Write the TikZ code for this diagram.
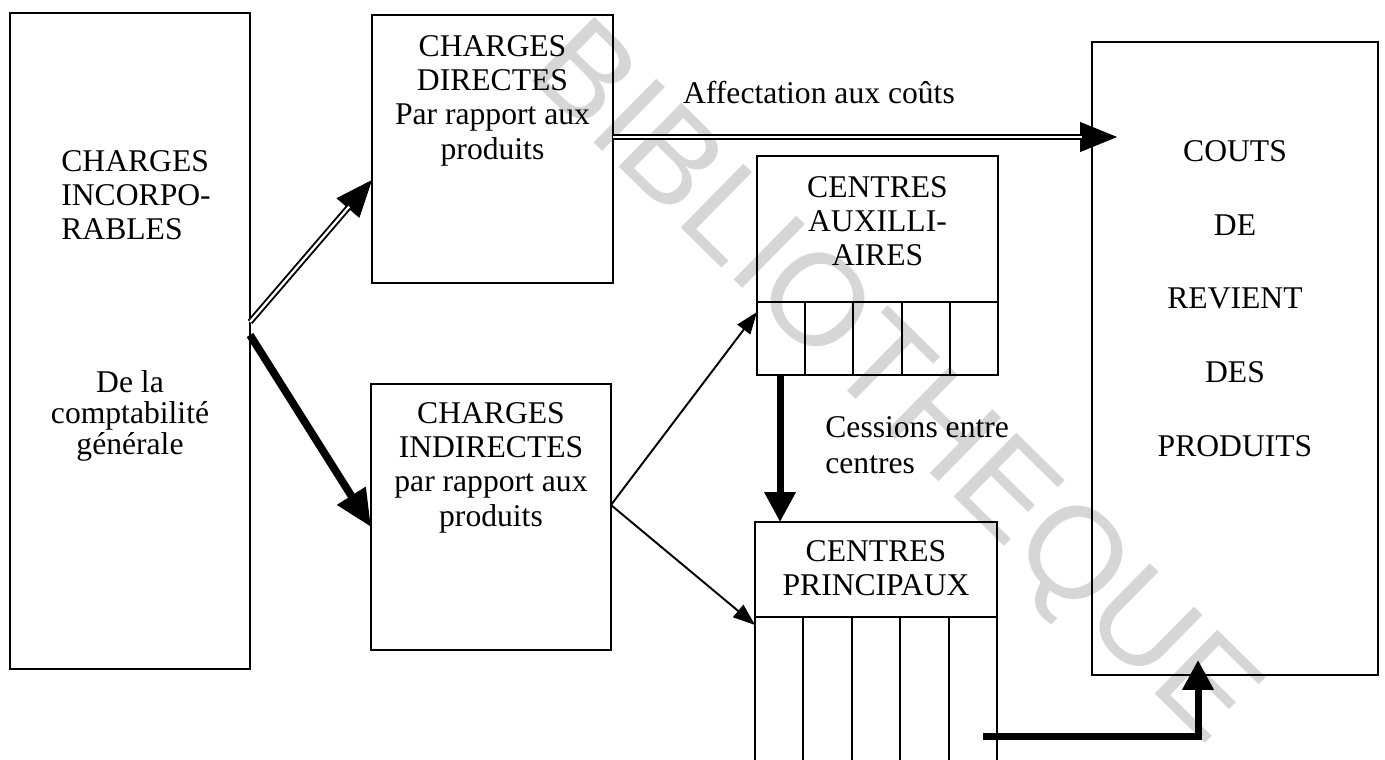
\documentclass[tikz,border=0pt]{standalone}
\usepackage{fontspec}
\setmainfont{Liberation Serif}
\newfontfamily\wmfont{Liberation Sans}
\usetikzlibrary{arrows.meta,positioning,calc}

\begin{document}
\begin{tikzpicture}[
        x=0.02cm, y=-0.02cm,
        box/.style={rectangle, draw, line width=1.1pt, outer sep=0pt, inner sep=0pt},
        txt/.style={align=center, inner sep=0pt, font=\fontsize{18}{19.5}\selectfont},
        wmark/.style={text=black!16, inner sep=0pt, font=\wmfont\fontsize{74}{74}\selectfont},
        tipline/.style={line width=0.4pt, -{Triangle[length=0.74cm, width=0.6cm]}},
        dblline/.style={line width=1.1pt, double distance=1.3pt},
        heavyarrow/.style={line width=4.4pt, -{Triangle[length=0.74cm, width=0.64cm]}},
        boldarrow/.style={line width=4pt, -{Triangle[length=0.6cm, width=0.6cm]}},
        thinarrow/.style={line width=1.1pt, -{Triangle[length=0.44cm, width=0.32cm]}}
    ]
        \useasboundingbox (0,0) rectangle (1385,760);

        % Watermark
        \node[wmark, rotate=-44.5] (wm) at (890,387) {BIBLIOTHEQUE};

        % Boxes
        \node[box, minimum width=4.8cm, minimum height=13.12cm] (charges) at (130,341) {};
        \node[box, minimum width=4.82cm, minimum height=5.36cm] (dir) at (492.5,149) {};
        \node[box, minimum width=4.8cm, minimum height=5.32cm] (ind) at (491,517) {};
        \node[box, minimum width=4.82cm, minimum height=2.92cm] (auxhead) at (877.5,229) {};
        \node[box, minimum width=4.82cm, minimum height=1.46cm, below=0pt of auxhead] (auxrow) {};
        \node[box, minimum width=4.84cm, minimum height=1.9cm] (prinhead) at (876,569.5) {};
        \node[box, minimum width=4.84cm, minimum height=3.4cm, below=0pt of prinhead] (prinbody) {};
        \node[box, minimum width=5.72cm, minimum height=12.66cm] (couts) at (1235,358.5) {};

        % Cells
        \foreach \i in {1,...,4} {
            \draw[line width=1.1pt] ($(auxrow.north west)!\i/5!(auxrow.north east)$) -- ($(auxrow.south west)!\i/5!(auxrow.south east)$);
            \draw[line width=1.1pt] ($(prinbody.north west)!\i/5!(prinbody.north east)$) -- ($(prinbody.south west)!\i/5!(prinbody.south east)$);
        }

        % Texts
        \node[txt, align=left, below right=2.74cm and 1.02cm of charges.north west] (chtxt) {CHARGES\\INCORPO-\\RABLES};
        \node[txt, font=\fontsize{18}{17.6}\selectfont, below=7.14cm of charges.north] (origtxt) {De la\\comptabilité\\générale};
        \node[txt, below=0.4cm of dir.north] (dirtxt) {CHARGES\\DIRECTES\\Par rapport aux\\produits};
        \node[txt, below=0.36cm of ind.north] (indtxt) {CHARGES\\INDIRECTES\\par rapport aux\\produits};
        \node[txt, below=0.4cm of auxhead.north] (auxtxt) {CENTRES\\AUXILLI-\\AIRES};
        \node[txt, below=0.36cm of prinhead.north] (printxt) {CENTRES\\PRINCIPAUX};
        \node[txt, font=\fontsize{18}{42}\selectfont, below=1.96cm of couts.north] (coutstxt) {COUTS\\DE\\REVIENT\\DES\\PRODUITS};
        \node[txt, align=left, font=\fontsize{18}{20.5}\selectfont, below right=0.82cm and 1.36cm of auxrow.south west] (cesstxt) {Cessions entre\\centres};

        % Connections
        \coordinate (chdir) at ([yshift=0.38cm]charges.east);
        \draw[tipline] (chdir) -- ([yshift=-0.62cm]dir.west);
        \draw[dblline, shorten >=0.7cm] (chdir) -- ([yshift=-0.62cm]dir.west);

        \draw[heavyarrow] ([yshift=0.12cm]charges.east) -- ([yshift=-0.2cm]ind.west);

        \coordinate (affout) at ([yshift=0.24cm]dir.east);
        \draw[tipline, shorten >=-0.5cm] (affout) -- (affout -| couts.west);
        \draw[dblline, shorten >=0.21cm] (affout) -- node[txt, above=0.64cm, pos=0.43] (afftxt) {Affectation aux coûts} (affout -| couts.west);

        \coordinate (indout) at ([yshift=0.24cm]ind.east);
        \draw[thinarrow] (indout) -- ([yshift=-0.2cm]auxrow.north west);
        \draw[thinarrow] (indout) -- ([yshift=-0.16cm]prinbody.north west);

        \coordinate (cessin) at ([xshift=0.46cm]auxrow.south west);
        \draw[boldarrow] (cessin) -- (cessin |- prinhead.north);

        \coordinate (prinout) at ([xshift=-0.28cm, yshift=-0.7cm]prinbody.east);
        \coordinate (coutsin) at ([xshift=-0.74cm, yshift=0.3cm]couts.south);
        \draw[boldarrow] (prinout) -| (coutsin);
    \end{tikzpicture}
\end{document}
